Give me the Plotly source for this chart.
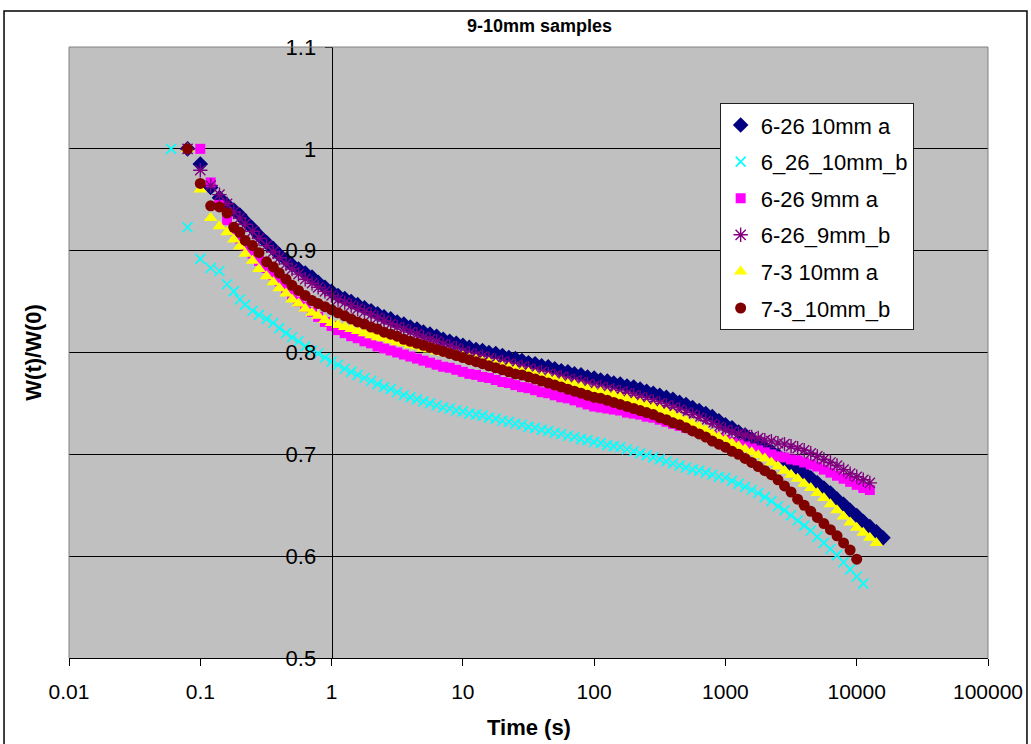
import plotly.graph_objects as go

# ---------------- data ----------------
TIME_S = [0.06, 0.08, 0.1, 0.12, 0.14, 0.16, 0.18, 0.2, 0.22, 0.25, 0.28, 0.32, 0.36, 0.4, 0.45, 0.5, 0.56, 0.63, 0.71, 0.79, 0.89,
          1.0, 1.12, 1.26, 1.41, 1.58, 1.78, 2.0, 2.24, 2.51, 2.82, 3.16, 3.55, 3.98, 4.47, 5.01, 5.62, 6.31, 7.08, 7.94, 8.91,
          10, 11.2, 12.6, 14.1, 15.8, 17.8, 20, 22.4, 25.1, 28.2, 31.6, 35.5, 39.8, 44.7, 50.1, 56.2, 63.1, 70.8, 79.4, 89.1,
          100, 112, 126, 141, 158, 178, 200, 224, 251, 282, 316, 355, 398, 447, 501, 562, 631, 708, 794, 891,
          1000, 1122, 1259, 1413, 1585, 1778, 1995, 2239, 2512, 2818, 3162, 3548, 3981, 4467, 5012, 5623, 6310, 7079, 7943, 8913,
          10000, 11220, 12589, 14125, 15849]

W_626_10MM_A = [None, 1.0, 0.985, 0.962, 0.952, 0.945, 0.940, 0.935, 0.929, 0.922, 0.915, 0.908, 0.902, 0.896, 0.891, 0.886, 0.882, 0.878, 0.874, 0.869, 0.864,
                0.860, 0.856, 0.853, 0.850, 0.847, 0.844, 0.841, 0.838, 0.835, 0.833, 0.830, 0.828, 0.825, 0.823, 0.820, 0.818, 0.816, 0.813, 0.811, 0.809,
                0.807, 0.805, 0.803, 0.802, 0.800, 0.799, 0.797, 0.795, 0.794, 0.792, 0.790, 0.789, 0.787, 0.786, 0.784, 0.782, 0.781, 0.779, 0.778, 0.776,
                0.775, 0.773, 0.772, 0.770, 0.769, 0.767, 0.766, 0.764, 0.762, 0.760, 0.758, 0.756, 0.754, 0.751, 0.749, 0.746, 0.743, 0.740, 0.737, 0.733,
                0.729, 0.726, 0.722, 0.719, 0.715, 0.711, 0.707, 0.703, 0.699, 0.695, 0.690, 0.686, 0.682, 0.677, 0.672, 0.667, 0.662, 0.656, 0.651, 0.645,
                0.640, 0.634, 0.629, 0.624, 0.618]

W_626_10MM_B = [1.0, 0.923, 0.892, 0.883, 0.880, 0.867, 0.860, 0.852, 0.847, 0.841, 0.837, 0.833, 0.829, 0.824, 0.819, 0.815, 0.811, 0.806, 0.802, 0.799, 0.795,
                0.791, 0.788, 0.784, 0.781, 0.778, 0.775, 0.772, 0.769, 0.766, 0.764, 0.761, 0.758, 0.756, 0.754, 0.752, 0.750, 0.748, 0.746, 0.745, 0.743,
                0.742, 0.740, 0.739, 0.738, 0.736, 0.735, 0.733, 0.732, 0.730, 0.729, 0.727, 0.726, 0.724, 0.723, 0.721, 0.720, 0.718, 0.717, 0.715, 0.714,
                0.712, 0.711, 0.709, 0.708, 0.707, 0.705, 0.703, 0.701, 0.699, 0.697, 0.695, 0.693, 0.691, 0.689, 0.687, 0.685, 0.684, 0.682, 0.680, 0.678,
                0.677, 0.674, 0.671, 0.668, 0.665, 0.662, 0.658, 0.654, 0.649, 0.645, 0.640, 0.635, 0.630, 0.625, 0.619, 0.613, 0.607, 0.601, 0.594, 0.587,
                0.580, 0.573, None, None, None]

W_626_9MM_A = [None, None, 1.0, 0.967, 0.945, 0.930, 0.920, 0.912, 0.905, 0.897, 0.890, 0.883, 0.876, 0.870, 0.863, 0.856, 0.850, 0.845, 0.840, 0.835, 0.830,
               0.826, 0.822, 0.819, 0.816, 0.814, 0.811, 0.809, 0.806, 0.804, 0.802, 0.800, 0.798, 0.796, 0.794, 0.792, 0.790, 0.788, 0.786, 0.785, 0.783,
               0.781, 0.779, 0.778, 0.776, 0.775, 0.773, 0.771, 0.770, 0.768, 0.766, 0.765, 0.763, 0.761, 0.760, 0.758, 0.756, 0.755, 0.753, 0.751, 0.749,
               0.747, 0.746, 0.745, 0.744, 0.743, 0.741, 0.740, 0.739, 0.737, 0.736, 0.734, 0.732, 0.730, 0.728, 0.726, 0.724, 0.722, 0.720, 0.718, 0.716,
               0.714, 0.712, 0.710, 0.708, 0.706, 0.704, 0.702, 0.700, 0.698, 0.697, 0.695, 0.694, 0.692, 0.690, 0.688, 0.685, 0.682, 0.679, 0.676, 0.673,
               0.670, 0.667, 0.665, None, None]

W_626_9MM_B = [None, 1.0, 0.979, 0.964, 0.955, 0.946, 0.938, 0.932, 0.926, 0.919, 0.912, 0.905, 0.899, 0.893, 0.887, 0.882, 0.877, 0.872, 0.868, 0.864, 0.860,
               0.856, 0.852, 0.849, 0.846, 0.843, 0.840, 0.837, 0.834, 0.831, 0.828, 0.825, 0.823, 0.820, 0.818, 0.815, 0.813, 0.811, 0.808, 0.806, 0.804,
               0.801, 0.799, 0.797, 0.796, 0.794, 0.792, 0.791, 0.789, 0.787, 0.786, 0.784, 0.782, 0.781, 0.779, 0.777, 0.776, 0.774, 0.772, 0.771, 0.769,
               0.767, 0.766, 0.764, 0.763, 0.761, 0.760, 0.758, 0.756, 0.754, 0.752, 0.750, 0.748, 0.746, 0.744, 0.741, 0.739, 0.736, 0.733, 0.730, 0.727,
               0.724, 0.722, 0.720, 0.719, 0.717, 0.716, 0.714, 0.713, 0.711, 0.710, 0.708, 0.706, 0.704, 0.701, 0.698, 0.695, 0.692, 0.689, 0.685, 0.681,
               0.678, 0.675, 0.672, None, None]

W_73_10MM_A = [None, 1.0, 0.960, 0.932, 0.924, 0.918, 0.911, 0.904, 0.897, 0.890, 0.882, 0.875, 0.869, 0.863, 0.858, 0.852, 0.848, 0.843, 0.839, 0.836, 0.832,
               0.829, 0.827, 0.825, 0.823, 0.821, 0.819, 0.817, 0.815, 0.814, 0.812, 0.810, 0.809, 0.807, 0.806, 0.804, 0.803, 0.801, 0.800, 0.799, 0.797,
               0.796, 0.794, 0.793, 0.791, 0.790, 0.788, 0.786, 0.785, 0.783, 0.781, 0.780, 0.778, 0.776, 0.775, 0.773, 0.771, 0.769, 0.768, 0.766, 0.764,
               0.762, 0.761, 0.759, 0.758, 0.756, 0.754, 0.752, 0.750, 0.748, 0.746, 0.744, 0.741, 0.739, 0.736, 0.733, 0.730, 0.727, 0.724, 0.720, 0.717,
               0.714, 0.711, 0.708, 0.705, 0.702, 0.699, 0.696, 0.692, 0.688, 0.684, 0.680, 0.676, 0.671, 0.667, 0.662, 0.657, 0.651, 0.645, 0.639, 0.633,
               0.628, 0.623, 0.618, 0.613, None]

W_73_10MM_B = [None, 1.0, 0.966, 0.944, 0.943, 0.937, 0.923, 0.918, 0.910, 0.905, 0.898, 0.889, 0.884, 0.878, 0.872, 0.866, 0.861, 0.856, 0.851, 0.848, 0.845,
               0.842, 0.839, 0.836, 0.833, 0.830, 0.828, 0.825, 0.823, 0.820, 0.818, 0.816, 0.813, 0.811, 0.809, 0.807, 0.805, 0.803, 0.801, 0.799, 0.797,
               0.795, 0.793, 0.791, 0.789, 0.787, 0.785, 0.783, 0.781, 0.779, 0.778, 0.776, 0.774, 0.772, 0.770, 0.768, 0.766, 0.764, 0.762, 0.760, 0.758,
               0.756, 0.755, 0.753, 0.751, 0.749, 0.747, 0.745, 0.743, 0.741, 0.739, 0.736, 0.734, 0.731, 0.729, 0.726, 0.723, 0.720, 0.717, 0.713, 0.710,
               0.707, 0.703, 0.700, 0.696, 0.692, 0.688, 0.684, 0.680, 0.675, 0.669, 0.663, 0.656, 0.650, 0.644, 0.638, 0.632, 0.626, 0.620, 0.613, 0.606,
               0.597, None, None, None, None]

SERIES_NAMES = ["6-26 10mm a", "6_26_10mm_b", "6-26 9mm a", "6-26_9mm_b", "7-3 10mm a", "7-3_10mm_b"]
SERIES_VALUES = [W_626_10MM_A, W_626_10MM_B, W_626_9MM_A, W_626_9MM_B, W_73_10MM_A, W_73_10MM_B]

X_TICK_VALUES = [0.01, 0.1, 1, 10, 100, 1000, 10000, 100000]
X_TICK_LABELS = ["0.01", "0.1", "1", "10", "100", "1000", "10000", "100000"]

TITLE = "9-10mm samples"
X_TITLE = "Time (s)"
Y_TITLE = "W(t)/W(0)"

# ---------------- styling ----------------
STYLES = [
    dict(symbol="diamond", size=12, color="#000080", line=dict(width=0)),
    dict(symbol="x-thin-open", size=10, color="#00FFFF", line=dict(width=1.6, color="#00FFFF")),
    dict(symbol="square", size=10, color="#FF00FF", line=dict(width=0)),
    dict(symbol="asterisk-open", size=12, color="#800080", line=dict(width=1.4, color="#800080")),
    dict(symbol="triangle-up", size=12, color="#FFFF00", line=dict(width=0)),
    dict(symbol="circle", size=11, color="#800000", line=dict(width=0)),
]
LEGEND_SIZES = [10, 10, 9, 11, 11, 10]

for vals in SERIES_VALUES:
    assert len(vals) == len(TIME_S)

FONT = "Arial, 'Liberation Sans', sans-serif"

fig = go.Figure()
for i, (name, vals) in enumerate(zip(SERIES_NAMES, SERIES_VALUES)):
    fig.add_trace(go.Scatter(
        x=TIME_S, y=vals, name=name, mode="markers",
        marker=STYLES[i], legendgroup=f"g{i}", cliponaxis=False,
    ))

fig.update_layout(
    width=1031, height=744, autosize=False,
    margin=dict(l=69, r=43, t=47, b=86, autoexpand=False),
    paper_bgcolor="white", plot_bgcolor="#C0C0C0",
    font=dict(family=FONT, size=21, color="black"),
    showlegend=True,
    legend=dict(
        x=0.708, y=0.908, xanchor="left", yanchor="top",
        bgcolor="white", bordercolor="#202020", borderwidth=1,
        font=dict(family=FONT, size=22, color="black"),
        tracegroupgap=5, itemsizing="trace",
    ),
    xaxis=dict(
        type="log", range=[-2, 5], automargin=False,
        tickvals=X_TICK_VALUES, ticktext=X_TICK_LABELS,
        ticks="outside", ticklen=7, tickcolor="black", tickwidth=1,
        showline=True, linecolor="black", linewidth=1,
        showgrid=False, zeroline=False,
        tickfont=dict(family=FONT, size=21, color="black"),
        ticklabelstandoff=8,
    ),
    yaxis=dict(
        range=[0.5, 1.1], tick0=0.5, dtick=0.1, automargin=False,
        anchor="free", position=2 / 7,
        ticks="outside", ticklen=7, tickcolor="black", tickwidth=1,
        showline=True, linecolor="black", linewidth=1,
        showgrid=True, gridcolor="black", gridwidth=1, zeroline=False,
        tickfont=dict(family=FONT, size=22, color="black"),
        ticklabelstandoff=4,
    ),
    annotations=[
        dict(text=f"<b>{TITLE}</b>", xref="paper", yref="paper", x=0.5125, y=1.0344,
             xanchor="center", yanchor="middle", showarrow=False,
             font=dict(family=FONT, size=18, color="black")),
        dict(text=f"<b>{X_TITLE}</b>", xref="paper", yref="paper", x=0.5, y=-0.113,
             xanchor="center", yanchor="middle", showarrow=False,
             font=dict(family=FONT, size=22, color="black")),
        dict(text=f"<b>{Y_TITLE}</b>", xref="paper", yref="paper", x=-0.039, y=0.5,
             xanchor="center", yanchor="middle", showarrow=False, textangle=-90,
             font=dict(family=FONT, size=22, color="black")),
    ],
    shapes=[
        dict(type="line", xref="paper", yref="paper", x0=0, x1=1, y0=1, y1=1,
             line=dict(color="#808080", width=1), layer="above"),
        dict(type="line", xref="paper", yref="paper", x0=0, x1=0, y0=0, y1=1,
             line=dict(color="#808080", width=1), layer="above"),
        dict(type="line", xref="paper", yref="paper", x0=1, x1=1, y0=0, y1=1,
             line=dict(color="#808080", width=1), layer="above"),
        dict(type="rect", xref="paper", yref="paper", x0=-0.0707, x1=1.0424, y0=-0.15, y1=1.0589,
             line=dict(color="black", width=1.5), fillcolor="rgba(0,0,0,0)", layer="above"),
    ],
)

fig.write_html("out.html")
